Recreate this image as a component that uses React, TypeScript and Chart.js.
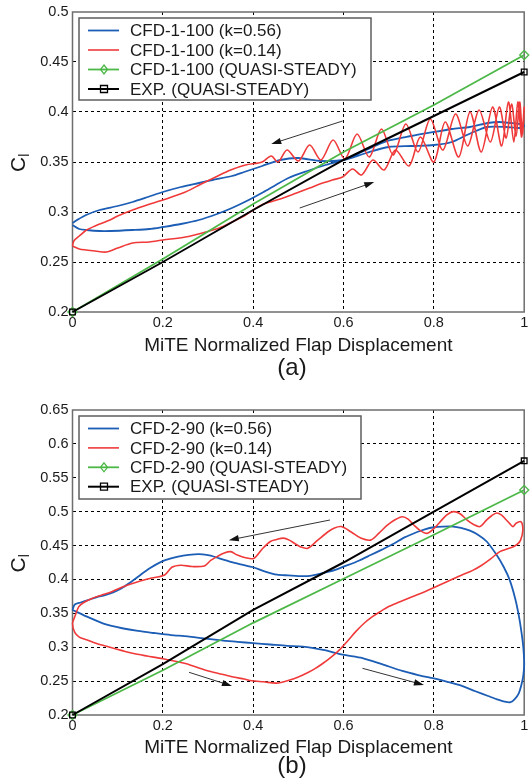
import { useEffect, useRef } from "react";
import { Chart, registerables } from "chart.js";

Chart.register(...registerables);

const FONT = "'Liberation Sans', Arial, Helvetica, sans-serif";
const TEXT = "#1a1a1a";
const BLUE = "#1c5db5";
const RED = "#f03a3a";
const GREEN = "#4cb847";
const BLACK = "#000000";

// shared x axis
const xTicks = [0, 0.2, 0.4, 0.6, 0.8, 1];

// ---------------- panel (a): CFD-1-100 ----------------
const yTicksA = [0.2, 0.25, 0.3, 0.35, 0.4, 0.45, 0.5];
const labelsA = ["CFD-1-100 (k=0.56)", "CFD-1-100 (k=0.14)", "CFD-1-100 (QUASI-STEADY)", "EXP. (QUASI-STEADY)"];

const blueAX = [0, 0.015, 0.031, 0.06, 0.083, 0.133, 0.17, 0.2, 0.24, 0.28, 0.32, 0.353, 0.39, 0.423, 0.45, 0.478, 0.52, 0.56, 0.6, 0.65, 0.697, 0.75, 0.8, 0.84, 0.88, 0.92, 0.945, 0.97, 0.99, 1.0, 0.99, 0.96, 0.917, 0.893, 0.873, 0.84, 0.8, 0.75, 0.7, 0.65, 0.6, 0.55, 0.5, 0.46, 0.42, 0.38, 0.353, 0.31, 0.28, 0.24, 0.2, 0.167, 0.133, 0.1, 0.06, 0.03, 0.01, 0];
const blueAY = [0.287, 0.283, 0.282, 0.281, 0.281, 0.282, 0.283, 0.285, 0.288, 0.292, 0.298, 0.304, 0.312, 0.32, 0.327, 0.334, 0.341, 0.347, 0.352, 0.362, 0.371, 0.376, 0.38, 0.383, 0.385, 0.389, 0.39, 0.389, 0.388, 0.386, 0.384, 0.385, 0.385, 0.381, 0.377, 0.37, 0.367, 0.366, 0.365, 0.359, 0.352, 0.351, 0.354, 0.352, 0.346, 0.34, 0.336, 0.332, 0.329, 0.325, 0.32, 0.315, 0.31, 0.306, 0.302, 0.297, 0.292, 0.289];

const redAX = [0, 0.015, 0.03, 0.05, 0.075, 0.1, 0.133, 0.17, 0.2, 0.25, 0.295, 0.325, 0.353, 0.38, 0.4, 0.423, 0.46, 0.496, 0.525, 0.554, 0.575, 0.598, 0.62, 0.64, 0.665, 0.69, 0.715, 0.745, 0.77, 0.8, 0.825, 0.855, 0.88, 0.905, 0.93, 0.95, 0.965, 0.977, 0.986, 0.994, 1.0, 0.996, 0.99, 0.982, 0.972, 0.96, 0.945, 0.925, 0.9, 0.875, 0.848, 0.82, 0.792, 0.765, 0.738, 0.71, 0.684, 0.657, 0.63, 0.603, 0.577, 0.55, 0.525, 0.5, 0.475, 0.455, 0.44, 0.42, 0.383, 0.35, 0.317, 0.285, 0.25, 0.2, 0.165, 0.133, 0.1, 0.083, 0.05, 0.031, 0.015, 0.003, 0];
const redAY = [0.266, 0.263, 0.262, 0.261, 0.26, 0.264, 0.269, 0.27, 0.272, 0.275, 0.28, 0.284, 0.29, 0.296, 0.302, 0.308, 0.313, 0.319, 0.324, 0.329, 0.332, 0.335, 0.343, 0.337, 0.352, 0.342, 0.362, 0.346, 0.375, 0.35, 0.39, 0.355, 0.4, 0.36, 0.405, 0.366, 0.41, 0.37, 0.41, 0.375, 0.405, 0.378, 0.41, 0.376, 0.408, 0.374, 0.405, 0.37, 0.402, 0.366, 0.398, 0.362, 0.393, 0.36, 0.388, 0.357, 0.383, 0.355, 0.378, 0.353, 0.372, 0.352, 0.367, 0.351, 0.362, 0.35, 0.356, 0.35, 0.347, 0.342, 0.335, 0.328, 0.32, 0.312, 0.307, 0.302, 0.296, 0.292, 0.286, 0.282, 0.276, 0.271, 0.266];

const quasiAX = [0, 0.2, 0.4, 0.6, 0.8, 1];
const quasiAY = [0.2, 0.253, 0.308, 0.36, 0.407, 0.457];
const expAX = [0, 0.2, 0.4, 0.6, 0.8, 1];
const expAY = [0.2, 0.25, 0.302, 0.352, 0.396, 0.44];

// direction arrows (tail -> head)
const arrowAFromX = [0.598, 0.503];
const arrowAFromY = [0.391, 0.304];
const arrowAToX = [0.44, 0.668];
const arrowAToY = [0.368, 0.33];

// ---------------- panel (b): CFD-2-90 ----------------
const yTicksB = [0.2, 0.25, 0.3, 0.35, 0.4, 0.45, 0.5, 0.55, 0.6, 0.65];
const labelsB = ["CFD-2-90 (k=0.56)", "CFD-2-90 (k=0.14)", "CFD-2-90 (QUASI-STEADY)", "EXP. (QUASI-STEADY)"];

const blueBX = [0, 0.036, 0.072, 0.11, 0.145, 0.18, 0.218, 0.255, 0.29, 0.33, 0.365, 0.4, 0.438, 0.475, 0.51, 0.555, 0.598, 0.642, 0.685, 0.73, 0.765, 0.8, 0.83, 0.862, 0.892, 0.92, 0.94, 0.957, 0.97, 0.979, 0.988, 0.994, 0.998, 1.0, 0.998, 0.994, 0.988, 0.98, 0.968, 0.955, 0.938, 0.917, 0.9, 0.88, 0.86, 0.843, 0.82, 0.8, 0.78, 0.763, 0.735, 0.712, 0.685, 0.66, 0.635, 0.609, 0.585, 0.565, 0.54, 0.521, 0.5, 0.478, 0.453, 0.425, 0.4, 0.375, 0.35, 0.325, 0.306, 0.288, 0.27, 0.245, 0.218, 0.196, 0.17, 0.145, 0.127, 0.109, 0.09, 0.072, 0.054, 0.036, 0.018, 0.005, 0];
const blueBY = [0.355, 0.344, 0.334, 0.328, 0.324, 0.321, 0.318, 0.316, 0.313, 0.31, 0.308, 0.306, 0.304, 0.302, 0.301, 0.296, 0.289, 0.284, 0.275, 0.265, 0.259, 0.254, 0.249, 0.243, 0.235, 0.228, 0.223, 0.2196, 0.219, 0.2235, 0.232, 0.245, 0.258, 0.275, 0.3, 0.322, 0.347, 0.372, 0.399, 0.418, 0.437, 0.456, 0.465, 0.472, 0.476, 0.478, 0.478, 0.477, 0.474, 0.47, 0.462, 0.453, 0.444, 0.436, 0.428, 0.421, 0.415, 0.411, 0.407, 0.405, 0.405, 0.406, 0.407, 0.412, 0.418, 0.422, 0.426, 0.431, 0.435, 0.437, 0.437, 0.435, 0.431, 0.426, 0.416, 0.404, 0.395, 0.387, 0.381, 0.377, 0.374, 0.37, 0.366, 0.363, 0.355];

const redBX = [0.005, 0, 0.005, 0.015, 0.031, 0.055, 0.083, 0.11, 0.133, 0.165, 0.2, 0.25, 0.295, 0.325, 0.353, 0.38, 0.397, 0.423, 0.452, 0.481, 0.5, 0.518, 0.536, 0.554, 0.572, 0.591, 0.61, 0.627, 0.645, 0.664, 0.68, 0.7, 0.725, 0.752, 0.78, 0.803, 0.83, 0.862, 0.885, 0.906, 0.925, 0.946, 0.962, 0.975, 0.985, 0.992, 0.997, 0.993, 0.982, 0.975, 0.967, 0.96, 0.95, 0.939, 0.928, 0.917, 0.902, 0.888, 0.873, 0.858, 0.843, 0.828, 0.814, 0.8, 0.785, 0.77, 0.756, 0.743, 0.73, 0.714, 0.697, 0.678, 0.66, 0.638, 0.617, 0.595, 0.58, 0.565, 0.543, 0.521, 0.505, 0.492, 0.48, 0.467, 0.452, 0.438, 0.42, 0.401, 0.383, 0.365, 0.35, 0.336, 0.321, 0.306, 0.292, 0.265, 0.24, 0.22, 0.204, 0.175, 0.145, 0.115, 0.087, 0.065, 0.043, 0.025, 0.014, 0.005];
const redBY = [0.345, 0.335, 0.322, 0.315, 0.311, 0.305, 0.3, 0.295, 0.291, 0.287, 0.283, 0.276, 0.266, 0.261, 0.2565, 0.253, 0.2506, 0.249, 0.247, 0.2516, 0.256, 0.2615, 0.268, 0.276, 0.285, 0.296, 0.31, 0.323, 0.335, 0.345, 0.352, 0.36, 0.367, 0.3745, 0.382, 0.389, 0.397, 0.4066, 0.413, 0.421, 0.43, 0.441, 0.445, 0.448, 0.452, 0.458, 0.473, 0.485, 0.483, 0.478, 0.483, 0.488, 0.495, 0.498, 0.494, 0.488, 0.478, 0.481, 0.488, 0.497, 0.5, 0.495, 0.485, 0.475, 0.468, 0.472, 0.48, 0.489, 0.4926, 0.488, 0.48, 0.468, 0.458, 0.461, 0.47, 0.478, 0.476, 0.47, 0.458, 0.446, 0.448, 0.453, 0.458, 0.461, 0.459, 0.456, 0.445, 0.431, 0.432, 0.436, 0.441, 0.439, 0.434, 0.428, 0.42, 0.419, 0.421, 0.418, 0.4066, 0.402, 0.3967, 0.39, 0.382, 0.377, 0.372, 0.366, 0.36, 0.345];

const quasiBX = [0, 0.2, 0.4, 0.6, 0.8, 1];
const quasiBY = [0.2, 0.266, 0.336, 0.401, 0.466, 0.532];
const expBX = [0, 0.2, 0.4, 0.6, 0.8, 1];
const expBY = [0.2, 0.275, 0.355, 0.425, 0.5, 0.575];

const arrowBFromX = [0.57, 0.258, 0.642];
const arrowBFromY = [0.4877, 0.263, 0.2689];
const arrowBToX = [0.346, 0.353, 0.778];
const arrowBToY = [0.458, 0.2428, 0.2443];

type Pt = { x: number; y: number };
const pts = (xs: number[], ys: number[]): Pt[] => xs.map((x, i) => ({ x, y: ys[i] }));
const fmt = (v: number) => String(Number(v.toFixed(2)));

interface Panel {
  height: number;
  padTop: number;
  xAxisHeight: number;
  yMax: number;
  yTicks: number[];
  labels: string[];
  blue: Pt[];
  red: Pt[];
  quasi: Pt[];
  exp: Pt[];
  arrows: { fx: number[]; fy: number[]; tx: number[]; ty: number[] };
  legendBox: { x: number; y: number; w: number; h: number };
  legendRow0: number;
  legendStep: number;
  caption: string;
  titleOffset: number;
  captionOffset: number;
}

const panelA: Panel = {
  height: 390,
  padTop: 12,
  xAxisHeight: 78,
  yMax: 0.5,
  yTicks: yTicksA,
  labels: labelsA,
  blue: pts(blueAX, blueAY),
  red: pts(redAX, redAY),
  quasi: pts(quasiAX, quasiAY),
  exp: pts(expAX, expAY),
  arrows: { fx: arrowAFromX, fy: arrowAFromY, tx: arrowAToX, ty: arrowAToY },
  legendBox: { x: 79, y: 18, w: 292, h: 82 },
  legendRow0: 30.5,
  legendStep: 19.5,
  caption: "(a)",
  titleOffset: 38.7,
  captionOffset: 63,
};

const panelB: Panel = {
  height: 392,
  padTop: 20,
  xAxisHeight: 67,
  yMax: 0.65,
  yTicks: yTicksB,
  labels: labelsB,
  blue: pts(blueBX, blueBY),
  red: pts(redBX, redBY),
  quasi: pts(quasiBX, quasiBY),
  exp: pts(expBX, expBY),
  arrows: { fx: arrowBFromX, fy: arrowBFromY, tx: arrowBToX, ty: arrowBToY },
  legendBox: { x: 79, y: 26, w: 282, h: 83 },
  legendRow0: 38.5,
  legendStep: 19.4,
  caption: "(b)",
  titleOffset: 37.5,
  captionOffset: 58,
};

function drawMarker(ctx: CanvasRenderingContext2D, style: string, x: number, y: number, color: string) {
  ctx.save();
  ctx.strokeStyle = color;
  ctx.lineWidth = 1.3;
  ctx.beginPath();
  if (style === "rectRot") {
    ctx.moveTo(x, y - 4.5);
    ctx.lineTo(x + 3.5, y);
    ctx.lineTo(x, y + 4.5);
    ctx.lineTo(x - 3.5, y);
    ctx.closePath();
  } else {
    ctx.rect(x - 3.5, y - 3.5, 7, 7);
  }
  ctx.stroke();
  ctx.restore();
}

function makeDecor(p: Panel) {
  return {
    id: "panelDecor",
    beforeDatasetsDraw(chart: any) {
      const { ctx, chartArea: a } = chart;
      ctx.save();
      ctx.strokeStyle = "#6e6e6e";
      ctx.lineWidth = 1.5;
      ctx.strokeRect(a.left, a.top, a.right - a.left, a.bottom - a.top);
      ctx.restore();
    },
    afterDatasetsDraw(chart: any) {
      const { ctx, chartArea: a } = chart;
      const xs = chart.scales.x;
      const ys = chart.scales.y;

      // direction arrows
      ctx.save();
      ctx.strokeStyle = "#333";
      ctx.fillStyle = "#111";
      ctx.lineWidth = 1;
      p.arrows.fx.forEach((_, i) => {
        const x1 = xs.getPixelForValue(p.arrows.fx[i]);
        const y1 = ys.getPixelForValue(p.arrows.fy[i]);
        const x2 = xs.getPixelForValue(p.arrows.tx[i]);
        const y2 = ys.getPixelForValue(p.arrows.ty[i]);
        const ang = Math.atan2(y2 - y1, x2 - x1);
        const L = 10, W = 3.2;
        ctx.beginPath();
        ctx.moveTo(x1, y1);
        ctx.lineTo(x2 - Math.cos(ang) * L * 0.7, y2 - Math.sin(ang) * L * 0.7);
        ctx.stroke();
        ctx.beginPath();
        ctx.moveTo(x2, y2);
        ctx.lineTo(x2 - Math.cos(ang) * L - Math.sin(ang) * W, y2 - Math.sin(ang) * L + Math.cos(ang) * W);
        ctx.lineTo(x2 - Math.cos(ang) * L + Math.sin(ang) * W, y2 - Math.sin(ang) * L - Math.cos(ang) * W);
        ctx.closePath();
        ctx.fill();
      });
      ctx.restore();

      // legend box
      const b = p.legendBox;
      ctx.save();
      ctx.fillStyle = "#fff";
      ctx.fillRect(b.x, b.y, b.w, b.h);
      ctx.strokeStyle = "#5e5e5e";
      ctx.lineWidth = 1.5;
      ctx.strokeRect(b.x, b.y, b.w, b.h);
      const entries = [
        { ds: chart.data.datasets[2], style: "" },
        { ds: chart.data.datasets[3], style: "" },
        { ds: chart.data.datasets[1], style: "rectRot" },
        { ds: chart.data.datasets[0], style: "rect" },
      ];
      ctx.font = `17px ${FONT}`;
      ctx.textBaseline = "middle";
      ctx.textAlign = "left";
      entries.forEach((e, i) => {
        const y = p.legendRow0 + i * p.legendStep;
        ctx.strokeStyle = e.ds.borderColor;
        ctx.lineWidth = e.ds.borderWidth;
        ctx.beginPath();
        ctx.moveTo(88, y);
        ctx.lineTo(119, y);
        ctx.stroke();
        if (e.style) drawMarker(ctx, e.style, 104, y, e.ds.borderColor);
        ctx.fillStyle = TEXT;
        ctx.fillText(e.ds.label, 130, y + 1);
      });
      ctx.restore();

      // axis titles and caption
      ctx.save();
      ctx.fillStyle = TEXT;
      ctx.textAlign = "center";
      ctx.textBaseline = "alphabetic";
      ctx.font = `19px ${FONT}`;
      ctx.fillText("MiTE Normalized Flap Displacement", (a.left + a.right) / 2, a.bottom + p.titleOffset);
      ctx.font = `24px ${FONT}`;
      ctx.fillText(p.caption, 292, a.bottom + p.captionOffset);

      const cy = (a.top + a.bottom) / 2 + 10;
      ctx.translate(25, cy);
      ctx.rotate(-Math.PI / 2);
      ctx.textAlign = "left";
      ctx.font = `21px ${FONT}`;
      ctx.fillText("C", 0, 0);
      const cw = ctx.measureText("C").width;
      ctx.font = `14px ${FONT}`;
      ctx.fillText("l", cw, 4);
      ctx.restore();
    },
  };
}

function buildConfig(p: Panel): any {
  const edge = (v: number, lo: number, hi: number) => Math.abs(v - lo) < 1e-9 || Math.abs(v - hi) < 1e-9;
  const tickFont = { family: FONT, size: 14.5 };
  return {
    type: "scatter",
    data: {
      datasets: [
        {
          label: "EXP. (QUASI-STEADY)",
          data: p.exp,
          showLine: true,
          borderColor: BLACK,
          backgroundColor: "rgba(0,0,0,0)",
          borderWidth: 2,
          pointStyle: "rect",
          pointRadius: (c: any) => (c.dataIndex === 0 || c.dataIndex === p.exp.length - 1 ? 4 : 0),
          pointBorderWidth: 1.3,
          tension: 0,
          clip: false,
          order: 0,
        },
        {
          label: p.labels[2],
          data: p.quasi,
          showLine: true,
          borderColor: GREEN,
          backgroundColor: "rgba(0,0,0,0)",
          borderWidth: 1.8,
          pointStyle: "rectRot",
          pointRadius: (c: any) => (c.dataIndex === 0 || c.dataIndex === p.quasi.length - 1 ? 4.5 : 0),
          pointBorderWidth: 1.3,
          tension: 0,
          clip: false,
          order: 1,
        },
        {
          label: p.labels[0],
          data: p.blue,
          showLine: true,
          borderColor: BLUE,
          borderWidth: 1.8,
          pointRadius: 0,
          tension: 0.25,
          clip: false,
          order: 3,
        },
        {
          label: p.labels[1],
          data: p.red,
          showLine: true,
          borderColor: RED,
          borderWidth: 1.6,
          pointRadius: 0,
          tension: 0.3,
          clip: false,
          order: 2,
        },
      ],
    },
    options: {
      animation: false,
      responsive: false,
      maintainAspectRatio: false,
      events: [],
      layout: { padding: { left: 0, right: 2, top: p.padTop, bottom: 0 } },
      plugins: { legend: { display: false }, tooltip: { enabled: false }, title: { display: false } },
      scales: {
        x: {
          type: "linear",
          min: 0,
          max: 1,
          afterBuildTicks: (s: any) => {
            s.ticks = xTicks.map((v) => ({ value: v }));
          },
          ticks: { color: TEXT, font: tickFont, padding: 2, maxRotation: 0, autoSkip: false, callback: (v: number) => fmt(v) },
          grid: {
            drawTicks: false,
            lineWidth: 1,
            color: (c: any) => (c.tick && edge(c.tick.value, 0, 1) ? "rgba(0,0,0,0)" : "#000"),
          },
          border: { display: false, dash: [3, 3] },
          afterFit: (s: any) => {
            s.height = p.xAxisHeight;
            s.paddingLeft = 0;
            s.paddingRight = 0;
          },
        },
        y: {
          type: "linear",
          min: 0.2,
          max: p.yMax,
          afterBuildTicks: (s: any) => {
            s.ticks = p.yTicks.map((v) => ({ value: v }));
          },
          ticks: { color: TEXT, font: tickFont, padding: 4, autoSkip: false, callback: (v: number) => fmt(v) },
          grid: {
            drawTicks: false,
            lineWidth: 1,
            color: (c: any) => (c.tick && edge(c.tick.value, 0.2, p.yMax) ? "rgba(0,0,0,0)" : "#000"),
          },
          border: { display: false, dash: [3, 3] },
          afterFit: (s: any) => {
            s.width = 72.5;
            s.paddingTop = 0;
            s.paddingBottom = 0;
          },
        },
      },
    },
    plugins: [makeDecor(p)],
  };
}

function PanelChart({ panel, top }: { panel: Panel; top: number }) {
  const ref = useRef<HTMLCanvasElement | null>(null);
  useEffect(() => {
    if (!ref.current) return;
    const chart = new Chart(ref.current, buildConfig(panel));
    return () => chart.destroy();
  }, [panel]);
  return (
    <canvas
      ref={ref}
      width={530}
      height={panel.height}
      style={{ position: "absolute", left: 0, top, width: 530, height: panel.height, display: "block" }}
    />
  );
}

export default function App() {
  return (
    <div style={{ position: "absolute", left: 0, top: 0, width: 530, height: 782, background: "#fff", overflow: "hidden" }}>
      <PanelChart panel={panelA} top={0} />
      <PanelChart panel={panelB} top={390} />
    </div>
  );
}
